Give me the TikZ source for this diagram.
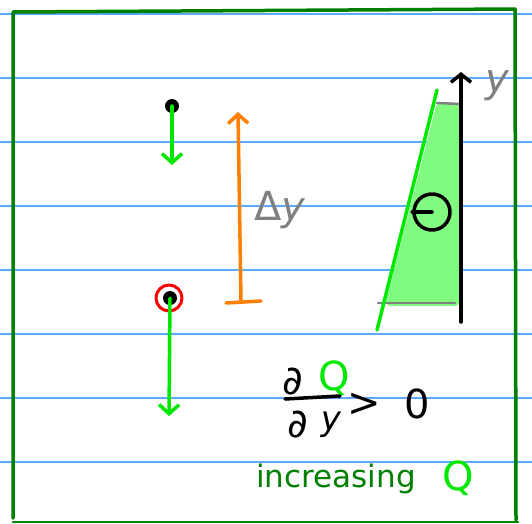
\documentclass[tikz,border=0pt]{standalone}
\usepackage{fontspec}
\setmainfont{DejaVu Sans}
\usetikzlibrary{arrows.meta}
\definecolor{ruled}{RGB}{90,170,255}
\definecolor{frame}{RGB}{0,128,0}
\definecolor{lime}{RGB}{0,232,0}
\definecolor{orng}{RGB}{255,128,0}
\definecolor{fillg}{RGB}{128,250,128}
\definecolor{pen}{RGB}{128,128,128}
\begin{document}
\begin{tikzpicture}[x=1pt,y=-1pt,line cap=round,line join=round,
  rule/.style={ruled,line width=1.2pt},
  border/.style={frame,line width=3.5pt},
  fall/.style={lime,line width=3.5pt,-{Straight Barb[length=9pt,width=20pt,line width=3.5pt]}},
  dot/.style={circle,fill=black,inner sep=0pt,minimum size=14pt},
  hand/.style={inner sep=0pt,font=\fontsize{40}{40}\selectfont},
  lbl/.style={inner sep=0pt,text=pen,font=\fontsize{40}{40}\selectfont}]
\useasboundingbox (0,0) rectangle (532,523);
\fill[white] (0,0) rectangle (532,523);
\foreach \y in {14,78,142,206,270,334,398,462} \draw[rule] (0,\y) -- (532,\y);
% frame
\draw[border] (13,518) -- (13,12) -- (515,9) -- (516,520);
\draw[frame,line width=2.5pt] (13,522) -- (518,522);
% upper particle
\node[dot] (p1) at (172,106) {};
\coordinate (p1e) at (172,165);
\draw[fall] (p1.center) -- (p1e);
% lower particle
\node[dot] (p2) at (170,298) {};
\node[circle,draw=red,line width=3pt,minimum size=26pt,inner sep=0pt] (ring) at (169,298) {};
\coordinate (p2e) at (169,416);
\draw[fall] (p2.center) -- (p2e);
% Delta y
\coordinate (dyb) at (241,301);
\coordinate (dyt) at (238,112);
\draw[orng,line width=3.5pt,-{Straight Barb[length=9pt,width=20pt,line width=3.5pt]}] (dyb) -- (dyt);
\draw[orng,line width=3.5pt] (226,303) -- (261,301);
\node[lbl] (dylbl) at (280,210) {Δ\textit{y}};
% right profile
\fill[fillg,rounded corners=6pt] (437,102) -- (460,103) -- (460,306) -- (385,306) -- cycle;
\draw[pen,line width=2.5pt] (437,103) -- (460,104);
\draw[pen,line width=2.5pt] (378,303) -- (455,303);
\coordinate (ax0) at (461,322);
\coordinate (ax1) at (461,72);
\draw[black,line width=3.5pt,-{Straight Barb[length=8pt,width=20pt,line width=3.5pt]}] (ax0) -- (ax1);
\node[lbl] (ylbl) at (498,86) {\textit{y}};
\draw[lime,line width=3.5pt] (437,90) -- (377,330);
\node[circle,draw=black,line width=3.5pt,minimum size=36pt,inner sep=0pt] (theta) at (432,212) {};
\draw[black,line width=3.5pt] (theta.west) -- (theta.center);
% formula
\node[hand] (d1) at (293,382) {∂};
\node[hand,text=lime] (q1) at (334,378) {Q};
\draw[black,line width=3.5pt] (285,399) -- (340,396);
\node[hand] (d2) at (298,425) {∂};
\node[hand,font=\fontsize{34}{34}\selectfont] (y2) at (331,425) {\textit{y}};
\node[hand] (gt) at (364,405) {>};
\node[hand] (zero) at (417,404) {0};
% caption
\node[inner sep=0pt,anchor=base west,text=frame,font=\fontsize{31}{31}\selectfont] (inc) at (256,487) {increasing};
\node[hand,text=lime] (q2) at (458,478) {Q};
\end{tikzpicture}
\end{document}
